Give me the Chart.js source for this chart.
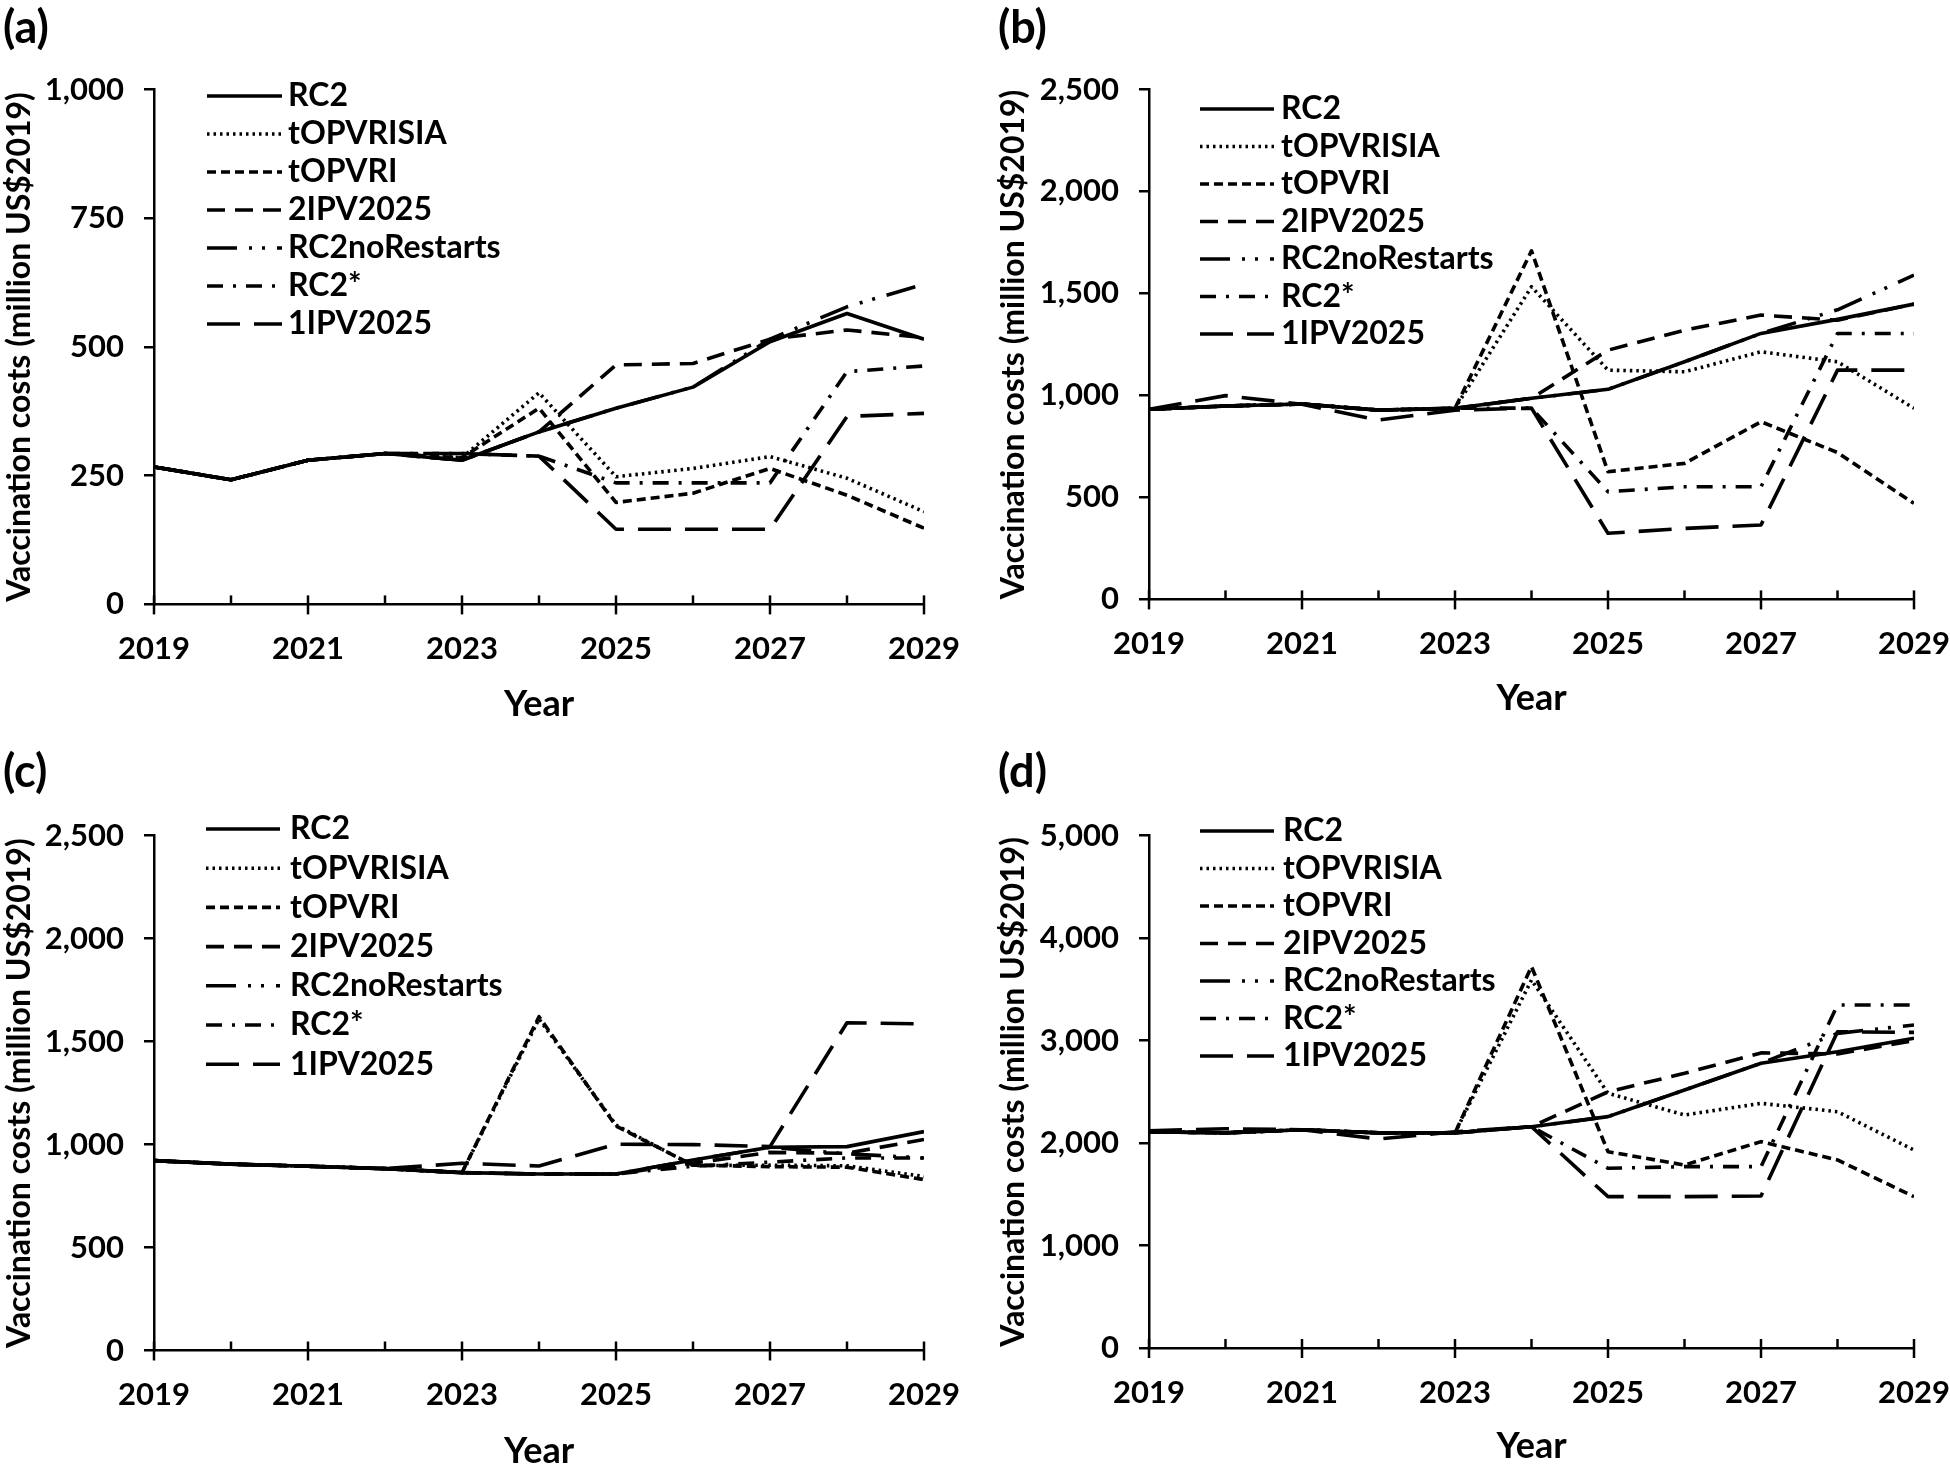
<!DOCTYPE html>
<html>
<head>
<meta charset="utf-8">
<script src="https://cdn.jsdelivr.net/npm/chart.js@4/dist/chart.umd.min.js"></script>
<style>
html,body{margin:0;padding:0;background:#fff;}
body{width:1950px;height:1465px;position:relative;overflow:hidden;}
canvas{position:absolute;display:block;}
</style>
</head>
<body>
<canvas id="pa" width="975" height="732" style="left:0;top:0"></canvas>
<canvas id="pb" width="975" height="732" style="left:975px;top:0"></canvas>
<canvas id="pc" width="975" height="733" style="left:0;top:732px"></canvas>
<canvas id="pd" width="975" height="733" style="left:975px;top:732px"></canvas>
<script>
// ---------- data ----------
const YEARS = [2019, 2020, 2021, 2022, 2023, 2024, 2025, 2026, 2027, 2028, 2029];
const SERIES = ['RC2', 'tOPVRISIA', 'tOPVRI', '2IPV2025', 'RC2noRestarts', 'RC2*', '1IPV2025'];
const Y_TITLE = 'Vaccination costs (million US$2019)';
const X_TITLE = 'Year';

// panel (a)
const A_RC2           = [267, 242, 280, 293, 280, 335, 381, 422, 510, 565, 515];
const A_TOPVRISIA     = [267, 242, 280, 293, 285, 411, 248, 264, 287, 245, 180];
const A_TOPVRI        = [267, 242, 280, 293, 285, 381, 198, 216, 264, 212, 148];
const A_2IPV2025      = [267, 242, 280, 293, 280, 335, 465, 468, 515, 533, 518];
const A_RC2NORESTARTS = [267, 242, 280, 293, 280, 335, 381, 422, 515, 578, 622];
const A_RC2STAR       = [267, 242, 280, 293, 293, 288, 236, 236, 236, 452, 463];
const A_1IPV2025      = [267, 242, 280, 293, 293, 288, 146, 146, 146, 365, 371];
const A_TICKS = [0, 250, 500, 750, 1000];

// panel (b)
const B_RC2           = [932, 948, 958, 928, 937, 986, 1030, 1165, 1304, 1373, 1448];
const B_TOPVRISIA     = [932, 948, 958, 928, 937, 1533, 1124, 1116, 1214, 1165, 937];
const B_TOPVRI        = [932, 948, 958, 928, 937, 1709, 626, 667, 871, 720, 471];
const B_2IPV2025      = [932, 948, 958, 928, 937, 986, 1222, 1320, 1394, 1369, 1448];
const B_RC2NORESTARTS = [932, 948, 958, 928, 937, 986, 1030, 1165, 1304, 1420, 1590];
const B_RC2STAR       = [932, 948, 958, 928, 937, 938, 528, 552, 552, 1304, 1304];
const B_1IPV2025      = [932, 999, 957, 879, 928, 938, 324, 348, 365, 1124, 1124];
const B_TICKS = [0, 500, 1000, 1500, 2000, 2500];

// panel (c)
const C_RC2           = [922, 905, 895, 883, 864, 857, 857, 925, 987, 990, 1063];
const C_TOPVRISIA     = [922, 905, 895, 883, 864, 1610, 1095, 898, 900, 897, 845];
const C_TOPVRI        = [922, 905, 895, 883, 864, 1621, 1090, 900, 893, 890, 830];
const C_2IPV2025      = [922, 905, 895, 883, 864, 857, 857, 910, 962, 958, 1025];
const C_RC2NORESTARTS = [922, 905, 895, 883, 864, 857, 857, 925, 987, 955, 935];
const C_RC2STAR       = [922, 905, 895, 883, 864, 857, 857, 895, 915, 935, 935];
const C_1IPV2025      = [922, 905, 895, 883, 909, 896, 1002, 1000, 990, 1592, 1586];
const C_TICKS = [0, 500, 1000, 1500, 2000, 2500];

// panel (d)
const D_RC2           = [2110, 2100, 2130, 2100, 2100, 2160, 2258, 2518, 2779, 2892, 3023];
const D_TOPVRISIA     = [2110, 2100, 2130, 2100, 2100, 3592, 2486, 2274, 2388, 2306, 1932];
const D_TOPVRI        = [2110, 2100, 2130, 2100, 2100, 3722, 1916, 1786, 2014, 1835, 1477];
const D_2IPV2025      = [2110, 2100, 2130, 2100, 2100, 2160, 2500, 2681, 2880, 2870, 3000];
const D_RC2NORESTARTS = [2110, 2100, 2130, 2100, 2100, 2160, 2258, 2518, 2779, 3071, 3152];
const D_RC2STAR       = [2110, 2100, 2130, 2100, 2100, 2160, 1754, 1770, 1770, 3348, 3348];
const D_1IPV2025      = [2120, 2140, 2130, 2040, 2110, 2160, 1477, 1477, 1483, 3087, 3080];
const D_TICKS = [0, 1000, 2000, 3000, 4000, 5000];

// ---------- styles ----------
const FONT = "Lato, 'Open Sans', sans-serif";
const DASH = [[], [2.5, 4], [9, 5], [18, 10], [30, 12, 3, 10, 3, 12], [16, 10, 3, 10], [33, 14]];
const LW = 3.6;

const PANELS = [
  { id: 'pa', label: '(a)', values: [A_RC2, A_TOPVRISIA, A_TOPVRI, A_2IPV2025, A_RC2NORESTARTS, A_RC2STAR, A_1IPV2025],
    ticks: A_TICKS, left: 154, padRight: 51, top: 89.5, xH: 732 - 604.4, yearPad: 6, ytPad: 0,
    lab: [3, 28], leg: { x0: 207, x1: 282, tx: 288, y0: 96, dy: 38 } },
  { id: 'pb', label: '(b)', values: [B_RC2, B_TOPVRISIA, B_TOPVRI, B_2IPV2025, B_RC2NORESTARTS, B_RC2STAR, B_1IPV2025],
    ticks: B_TICKS, left: 174, padRight: 36, top: 89.5, xH: 732 - 599.4, yearPad: 12, ytPad: 19,
    lab: [23, 28], leg: { x0: 225, x1: 299, tx: 306, y0: 109, dy: 37.5 } },
  { id: 'pc', label: '(c)', values: [C_RC2, C_TOPVRISIA, C_TOPVRI, C_2IPV2025, C_RC2NORESTARTS, C_RC2STAR, C_1IPV2025],
    ticks: C_TICKS, left: 154, padRight: 51, top: 103.7, xH: 733 - 618.5, yearPad: -8, ytPad: 0,
    lab: [3, 40], leg: { x0: 206, x1: 280, tx: 290, y0: 97, dy: 39.2 } },
  { id: 'pd', label: '(d)', values: [D_RC2, D_TOPVRISIA, D_TOPVRI, D_2IPV2025, D_RC2NORESTARTS, D_RC2STAR, D_1IPV2025],
    ticks: D_TICKS, left: 174, padRight: 36, top: 103.7, xH: 733 - 616, yearPad: -3, ytPad: 19,
    lab: [23, 40], leg: { x0: 225, x1: 299, tx: 308, y0: 99, dy: 37.5 } }
];

const decor = {
  id: 'decor',
  afterDraw(chart, args, opts) {
    const ctx = chart.ctx;
    const xs = chart.scales.x;
    const axisY = chart.chartArea.bottom;
    ctx.save();
    // x axis ticks: major (labelled) cross the axis, minor point inward
    ctx.strokeStyle = '#000';
    ctx.lineWidth = 2.5;
    ctx.setLineDash([]);
    YEARS.forEach(yr => {
      const px = xs.getPixelForValue(yr);
      ctx.beginPath();
      if (yr % 2 === 1) { ctx.moveTo(px, axisY - 9); ctx.lineTo(px, axisY + 10); }
      else { ctx.moveTo(px, axisY - 9); ctx.lineTo(px, axisY); }
      ctx.stroke();
    });
    // legend
    const lg = opts.leg;
    ctx.font = 'bold 32px ' + FONT;
    ctx.fillStyle = '#000';
    ctx.textBaseline = 'middle';
    ctx.textAlign = 'left';
    chart.data.datasets.forEach((ds, i) => {
      const y = lg.y0 + i * lg.dy;
      ctx.beginPath();
      ctx.lineWidth = LW;
      ctx.lineCap = 'butt';
      ctx.setLineDash(ds.borderDash || []);
      ctx.moveTo(lg.x0, y);
      ctx.lineTo(lg.x1, y);
      ctx.stroke();
      ctx.setLineDash([]);
      ctx.fillText(ds.label, lg.tx, y);
    });
    // panel label
    ctx.font = 'bold 45px ' + FONT;
    ctx.fillText(opts.label, opts.lab[0], opts.lab[1]);
    ctx.restore();
  }
};

function build(p) {
  const datasets = SERIES.map((name, i) => ({
    label: name,
    data: YEARS.map((yr, j) => ({ x: yr, y: p.values[i][j] })),
    borderColor: '#000',
    backgroundColor: '#000',
    borderWidth: LW,
    borderDash: DASH[i],
    borderCapStyle: 'butt',
    borderJoinStyle: 'round',
    pointRadius: 0,
    tension: 0,
    fill: false
  }));
  const tickFont = { family: FONT, weight: 'bold', size: 31 };
  new Chart(document.getElementById(p.id), {
    type: 'line',
    data: { datasets },
    options: {
      responsive: false,
      animation: false,
      devicePixelRatio: 1,
      layout: { padding: { top: p.top, right: p.padRight, bottom: 0, left: 0 } },
      plugins: {
        legend: { display: false },
        tooltip: { enabled: false },
        decor: { leg: p.leg, label: p.label, lab: p.lab }
      },
      scales: {
        x: {
          type: 'linear', min: 2019, max: 2029,
          afterBuildTicks: s => { s.ticks = YEARS.map(v => ({ value: v })); },
          afterFit: s => { s.height = p.xH; s.paddingLeft = 0; s.paddingRight = 0; },
          ticks: { autoSkip: false, maxRotation: 0, padding: 26, color: '#000', font: tickFont,
                   callback: v => (v % 2 === 1 ? String(v) : '') },
          grid: { display: false, drawTicks: false },
          border: { display: true, color: '#000', width: 2.5 },
          title: { display: true, text: X_TITLE, color: '#000',
                   font: { family: FONT, weight: 'bold', size: 36 }, padding: { top: 0, bottom: p.yearPad } }
        },
        y: {
          min: 0, max: p.ticks[p.ticks.length - 1],
          afterBuildTicks: s => { s.ticks = p.ticks.map(v => ({ value: v })); },
          afterFit: s => { s.width = p.left; s.paddingTop = 0; s.paddingBottom = 0; },
          ticks: { padding: 20, color: '#000', font: tickFont,
                   callback: v => Number(v).toLocaleString('en-US') },
          grid: { display: true, drawOnChartArea: false, drawTicks: true, tickLength: 10, color: '#000', lineWidth: 2.5 },
          border: { display: true, color: '#000', width: 2.5 },
          title: { display: true, text: Y_TITLE, color: '#000',
                   font: { family: FONT, weight: 'bold', size: 32 }, padding: { top: p.ytPad, bottom: 0 } }
        }
      }
    },
    plugins: [decor]
  });
}

function go() { PANELS.forEach(build); }
if (document.fonts && document.fonts.load) {
  Promise.all([document.fonts.load('bold 30px Lato')]).then(go, go);
} else { go(); }
</script>
</body>
</html>
